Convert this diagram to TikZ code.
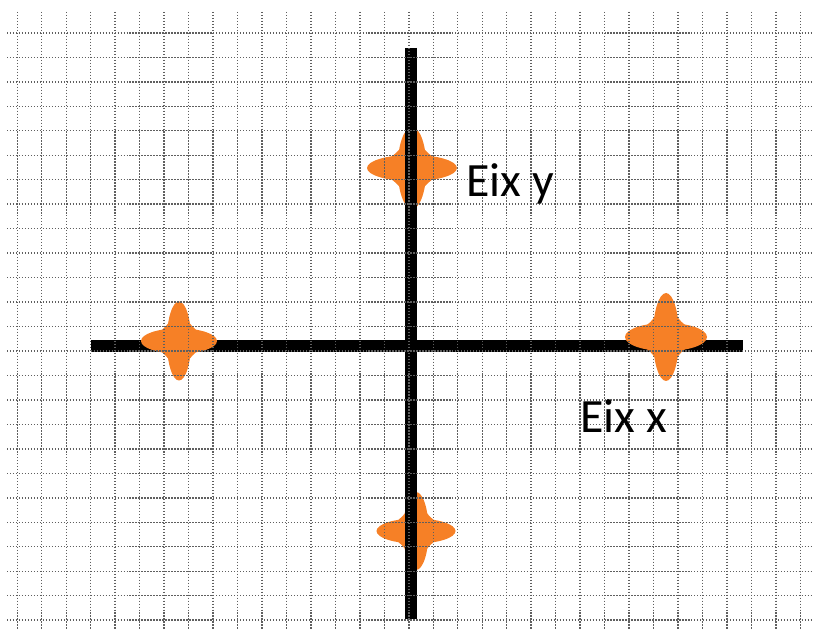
\documentclass[tikz,border=0pt]{standalone}
\usepackage{fontspec}
\setmainfont{Carlito}
\definecolor{starorange}{RGB}{246,128,38}
\definecolor{griddot}{RGB}{95,95,95}

\begin{document}
\begin{tikzpicture}[
    x=0.03cm,
    y=-0.03cm,
    font=\fontsize{40.8}{48}\selectfont,
    line join=round,
    gridline/.style={
      draw=griddot,
      line width=1.2pt,
      dash pattern=on 1.15pt off 1.4pt
    },
    axisline/.style={
      draw=black,
      line width=9.4pt
    },
    starfill/.style={
      fill=starorange
    },
    label/.style={
      anchor=base west,
      inner sep=0pt,
      text=black
    }
]

% Page frame in pixel units of the reference.
\useasboundingbox (0,0) rectangle (814,629);

% Horizontal axis lies under its two stars.
\draw[axisline] (91,346) -- (743,346);

% Four-point stars: centre x / centre y / half width / half height.
% Two slim ellipses for the arms, a concave core for the fillets.
\foreach \cx/\cy/\w/\h in {
  412/168/45/41,
  179/341/38/39.5,
  666/337/41/44,
  416/531/39.5/39
} {
  \fill[starfill] (\cx,\cy) ellipse [x radius={\w}, y radius={0.32*\h}];
  \fill[starfill] (\cx,\cy) ellipse [x radius={0.32*\w}, y radius={\h}];
  \fill[starfill]
    ({\cx+0.85*\w},\cy)
      .. controls ({\cx+0.34*\w},{\cy-0.34*\h}) .. (\cx,{\cy-0.85*\h})
      .. controls ({\cx-0.34*\w},{\cy-0.34*\h}) .. ({\cx-0.85*\w},\cy)
      .. controls ({\cx-0.34*\w},{\cy+0.34*\h}) .. (\cx,{\cy+0.85*\h})
      .. controls ({\cx+0.34*\w},{\cy+0.34*\h}) .. cycle;
}

% Vertical axis lies over the top and bottom stars.
\draw[axisline] (411,48) -- (411,619);

% Dotted squared paper on top of everything.
\foreach \k in {0,...,32} {
  \draw[gridline] ({17.3+24.47*\k},12) -- ({17.3+24.47*\k},629);
}
\foreach \j in {0,...,24} {
  \draw[gridline] (7,{32.9+24.47*\j}) -- (813,{32.9+24.47*\j});
}

% Axis names.
\node[label] (eixy) at (466,197) {Eix y};
\node[label] (eixx) at (580,432) {Eix x};

\end{tikzpicture}
\end{document}
